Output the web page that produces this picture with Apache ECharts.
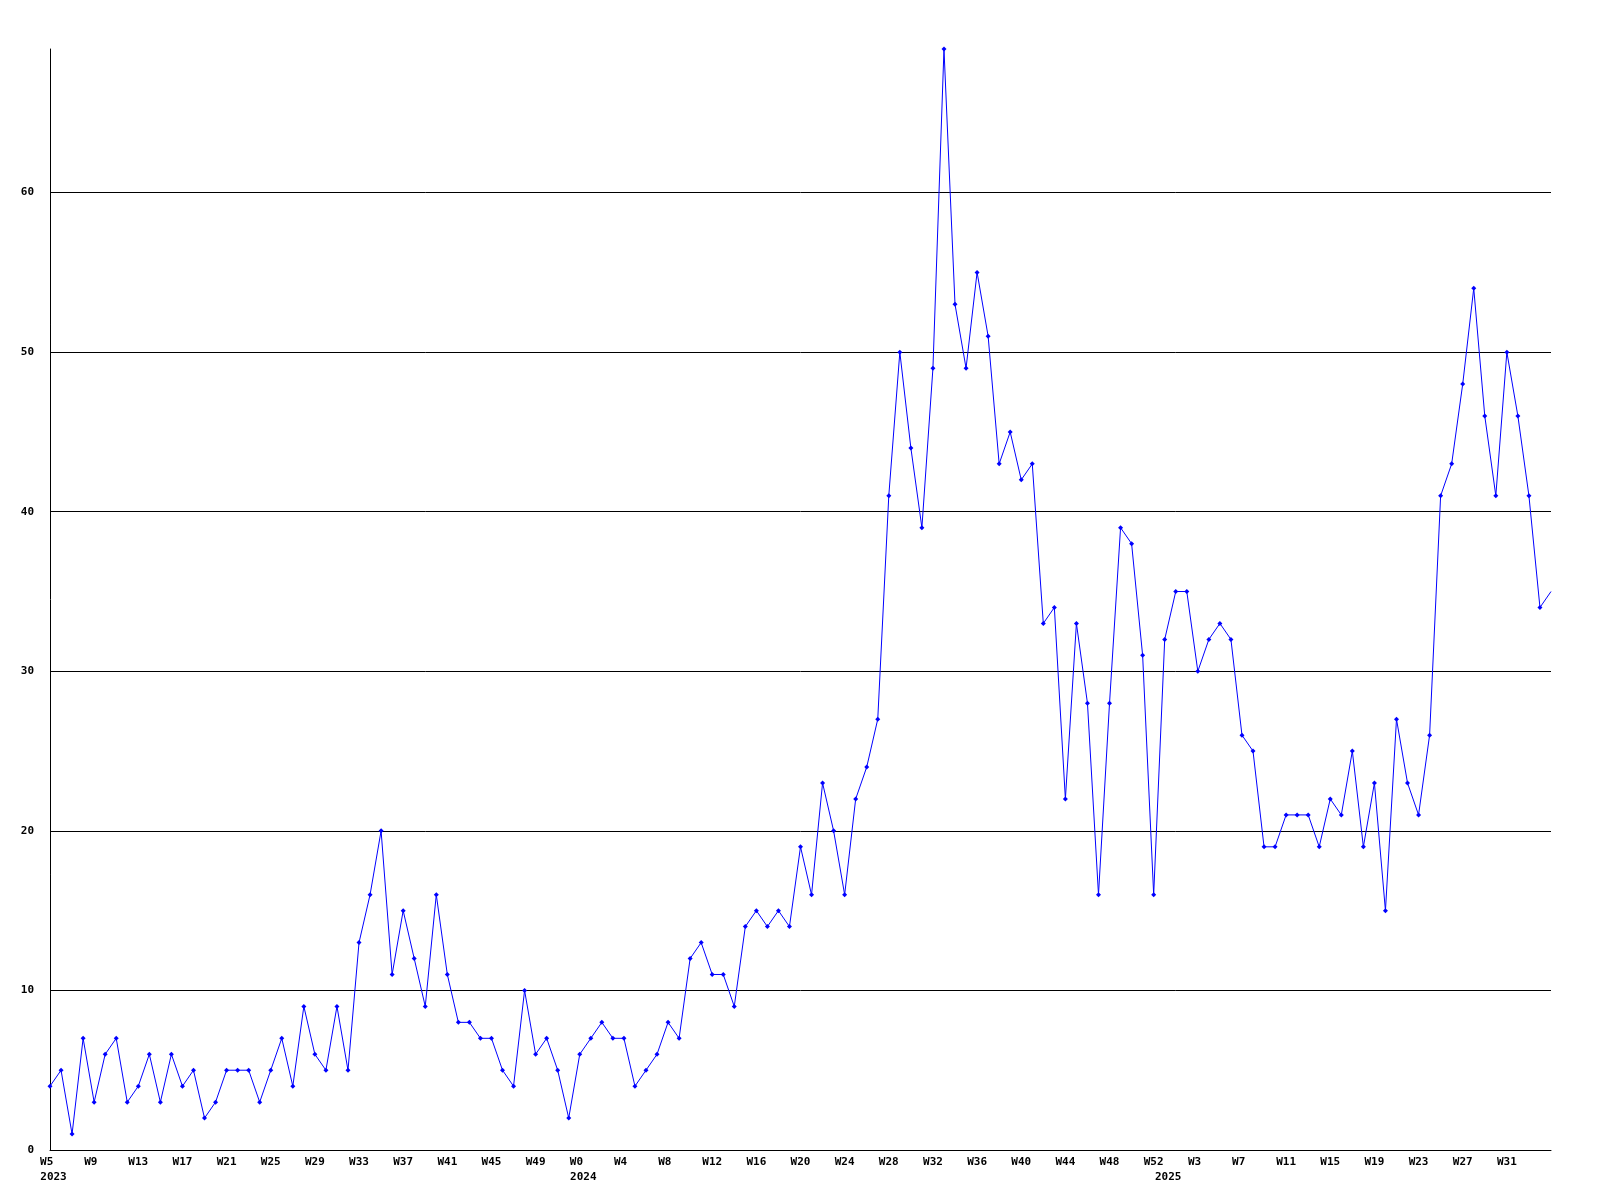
<!DOCTYPE html>
<html>
<head>
<meta charset="utf-8">
<script src="https://cdn.jsdelivr.net/npm/echarts@6/dist/echarts.min.js"></script>
<style>
  html, body { margin: 0; padding: 0; background: #ffffff; }
  #chart { width: 1600px; height: 1200px; }
</style>
</head>
<body>
<div id="chart"></div>
<script>
// Weeks covered in each year
const years = [2023, 2024, 2025];
const firstWeek = [5, 0, 0];
const lastWeek = [52, 52, 35];

// Weekly values
const values2023 = [4, 5, 1, 7, 3, 6, 7, 3, 4, 6, 3, 6, 4, 5, 2, 3, 5, 5, 5, 3, 5, 7, 4, 9, 6, 5, 9, 5,
  13, 16, 20, 11, 15, 12, 9, 16, 11, 8, 8, 7, 7, 5, 4, 10, 6, 7, 5, 2];
const values2024 = [6, 7, 8, 7, 7, 4, 5, 6, 8, 7, 12, 13, 11, 11, 9, 14, 15, 14, 15, 14, 19, 16, 23, 20, 16, 22, 24, 27,
  41, 50, 44, 39, 49, 69, 53, 49, 55, 51, 43, 45, 42, 43, 33, 34, 22, 33, 28, 16, 28, 39, 38, 31, 16];
const values2025 = [32, 35, 35, 30, 32, 33, 32, 26, 25, 19, 19, 21, 21, 21, 19, 22, 21, 25, 19, 23, 15, 27, 23, 21, 26,
  41, 43, 48, 54, 46, 41, 50, 46, 41, 34, 35];

// Y axis ticks
const yTicks = [0, 10, 20, 30, 40, 50, 60];
const yMax = 69;

const categories = [];
const yearOfIndex = [];
const yearStartIndex = [];
years.forEach((y, i) => {
  yearStartIndex.push(categories.length);
  for (let w = firstWeek[i]; w <= lastWeek[i]; w++) {
    categories.push('W' + w);
    yearOfIndex.push(y);
  }
});
const values = values2023.concat(values2024, values2025);
const lastIdx = values.length - 1;
const seriesData = values.map((v, i) => i === lastIdx ? { value: v, symbol: 'none' } : v);

const font = 'DejaVu Sans Mono';
const chart = echarts.init(document.getElementById('chart'), null, { renderer: 'canvas' });
chart.setOption({
  animation: false,
  backgroundColor: '#ffffff',
  grid: { left: 50, right: 49, top: 49, bottom: 50, containLabel: false },
  xAxis: [{
    type: 'category',
    data: categories,
    boundaryGap: false,
    axisLine: { show: true, lineStyle: { color: '#000', width: 1 } },
    axisTick: { show: false },
    splitLine: { show: false },
    axisLabel: {
      interval: (idx) => idx % 4 === 0 && idx !== lastIdx,
      margin: 7,
      color: '#000',
      fontFamily: font,
      fontWeight: 'bold',
      fontSize: 11,
      formatter: (v, idx) => (idx === lastIdx ? '' : v.padEnd(3, ' '))
    }
  }, {
    type: 'category',
    data: categories,
    boundaryGap: false,
    position: 'bottom',
    axisLine: { show: false },
    axisTick: { show: false },
    splitLine: { show: false },
    axisLabel: {
      interval: (idx) => yearStartIndex.indexOf(idx) >= 0,
      margin: 22,
      color: '#000',
      fontFamily: font,
      fontWeight: 'bold',
      fontSize: 11,
      padding: [0, 0, 0, 7],
      formatter: (v, idx) => (yearStartIndex.indexOf(idx) >= 0 ? String(yearOfIndex[idx]) : '')
    }
  }],
  yAxis: {
    type: 'value',
    min: 0,
    max: yMax,
    interval: 10,
    axisLine: { show: true, lineStyle: { color: '#000', width: 1 } },
    axisTick: { show: false },
    axisLabel: {
      margin: 16,
      color: '#000',
      fontFamily: font,
      fontWeight: 'bold',
      fontSize: 11,
      formatter: v => (yTicks.indexOf(v) >= 0 ? String(v) : '')
    },
    splitLine: {
      show: true,
      lineStyle: { color: ['#000', '#000', '#000', '#000', '#000', '#000', '#000', 'rgba(0,0,0,0)'], width: 1 }
    }
  },
  series: [{
    type: 'line',
    xAxisIndex: 0,
    data: seriesData,
    symbol: 'diamond',
    symbolSize: 5,
    showAllSymbol: true,
    lineStyle: { color: '#0000ff', width: 1 },
    itemStyle: { color: '#0000ff' },
    emphasis: { disabled: true }
  }]
});
</script>
</body>
</html>
